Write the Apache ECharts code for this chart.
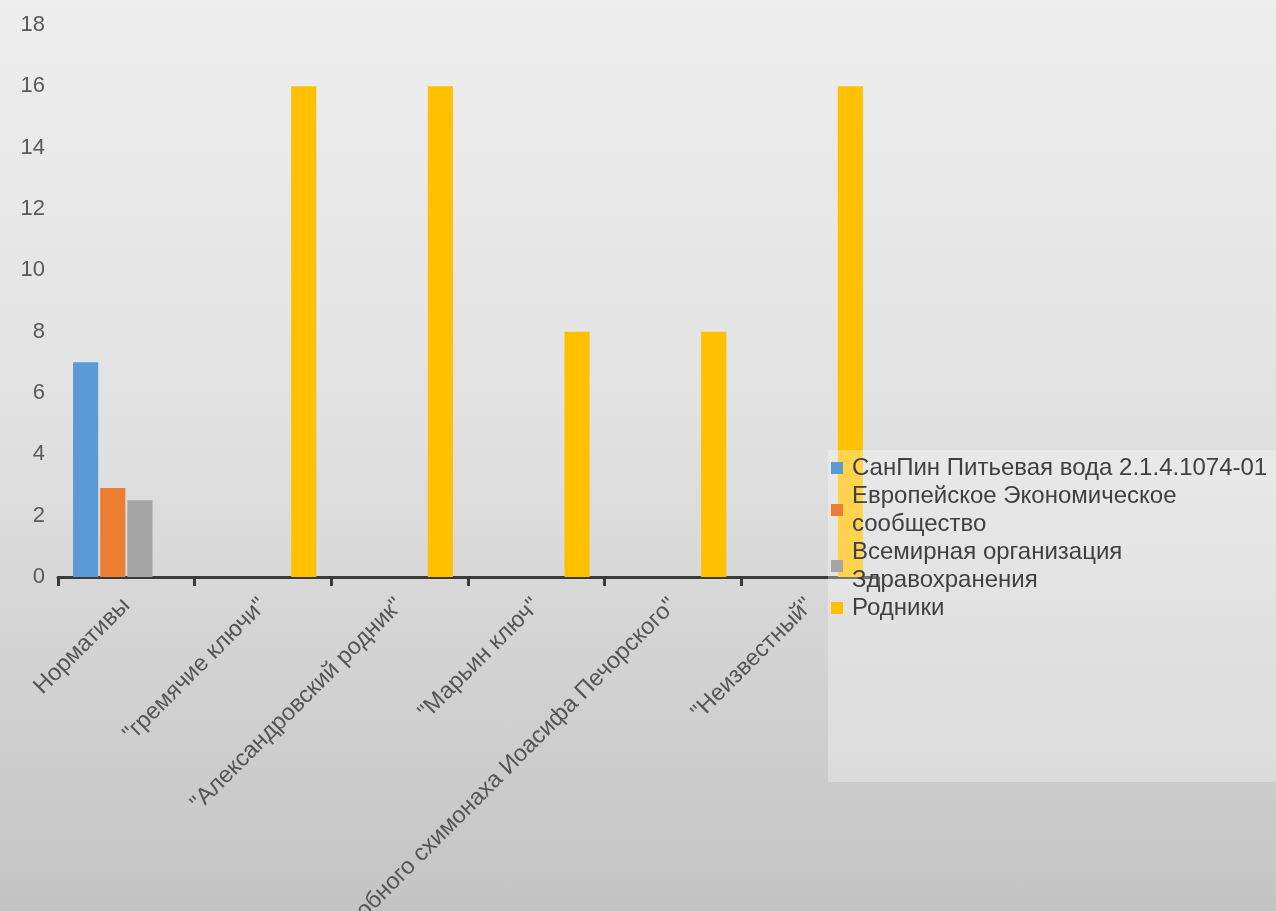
<!DOCTYPE html>
<html>
<head>
<meta charset="utf-8">
<script src="https://cdn.jsdelivr.net/npm/echarts@6/dist/echarts.min.js"></script>
<style>
html,body{margin:0;padding:0;width:1276px;height:911px;overflow:hidden;}
body{background:linear-gradient(to bottom,#eeeeee 0%,#e2e2e2 45%,#c4c4c4 100%);}
#chart{width:1276px;height:911px;}
</style>
</head>
<body>
<div id="chart"></div>
<script>
const categories = ['Нормативы', '"гремячие ключи"', '"Александровский родник"', '"Марьин ключ"', '"Родник преподобного схимонаха Иоасифа Печорского"', '"Неизвестный"'];
const seriesNames = ['СанПин Питьевая вода 2.1.4.1074-01', 'Европейское Экономическое сообщество', 'Всемирная организация Здравохранения', 'Родники'];
const sanpin = [7, null, null, null, null, null];
const euro = [2.9, null, null, null, null, null];
const who = [2.5, null, null, null, null, null];
const springs = [null, 16, 16, 8, 8, 16];
const yTicks = {min: 0, max: 18, interval: 2};
const colors = ['#5B9BD5', '#ED7D31', '#A5A5A5', '#FFC000'];

const FONT = 'Liberation Sans, Arial, sans-serif';
const LEGEND_FONT_SIZE = 24;
const LEGEND_TEXT_MAX = 424;

// word-wrap legend names to a maximum pixel width
const measureCtx = document.createElement('canvas').getContext('2d');
measureCtx.font = LEGEND_FONT_SIZE + 'px ' + FONT;
function wrapText(text, maxW) {
  const words = text.split(' ');
  const lines = [];
  let cur = '';
  words.forEach(w => {
    const test = cur ? cur + ' ' + w : w;
    if (cur && measureCtx.measureText(test).width > maxW) {
      lines.push(cur);
      cur = w;
    } else {
      cur = test;
    }
  });
  if (cur) lines.push(cur);
  return lines.join('\n');
}

const chart = echarts.init(document.getElementById('chart'));
const dataSets = [sanpin, euro, who, springs];
chart.setOption({
  animation: false,
  backgroundColor: 'transparent',
  color: colors,
  grid: {left: 58, right: 398, top: 25, bottom: 334, containLabel: false, outerBoundsMode: 'none'},
  legend: {
    orient: 'vertical',
    left: 828,
    top: 450,
    itemWidth: 12,
    itemHeight: 12,
    itemGap: 0,
    icon: 'rect',
    padding: [4, 10, 160, 3],
    backgroundColor: 'rgba(255,255,255,0.30)',
    data: seriesNames,
    formatter: name => wrapText(name, LEGEND_TEXT_MAX),
    textStyle: {
      fontFamily: FONT,
      fontSize: LEGEND_FONT_SIZE,
      color: '#404040',
      lineHeight: 28,
      padding: [0, 0, 0, 4]
    }
  },
  xAxis: {
    type: 'category',
    data: categories,
    boundaryGap: true,
    axisLine: {lineStyle: {color: '#3a3a3a', width: 3}},
    axisTick: {show: true, length: 9, lineStyle: {color: '#3a3a3a', width: 3}},
    axisLabel: {
      rotate: 45,
      interval: 0,
      margin: 25,
      fontFamily: FONT,
      fontSize: 23.5,
      color: '#555555'
    },
    splitLine: {show: false}
  },
  yAxis: {
    type: 'value',
    min: yTicks.min,
    max: yTicks.max,
    interval: yTicks.interval,
    axisLine: {show: false},
    axisTick: {show: false},
    splitLine: {show: false},
    axisLabel: {
      margin: 13,
      fontFamily: FONT,
      fontSize: 22,
      color: '#595959'
    }
  },
  series: seriesNames.map((n, i) => ({
    name: n,
    type: 'bar',
    data: dataSets[i],
    barGap: '8%',
    barCategoryGap: '22%',
    itemStyle: {color: colors[i]}
  }))
});
</script>
</body>
</html>
